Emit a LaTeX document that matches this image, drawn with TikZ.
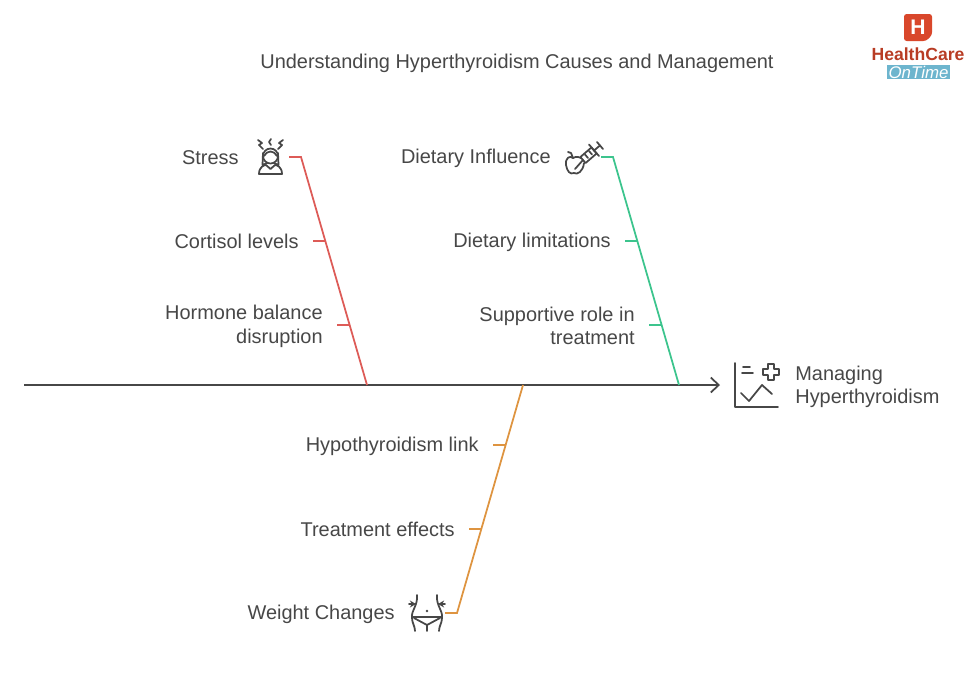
\documentclass[tikz,border=0pt]{standalone}
\usepackage{fontspec}
\setmainfont{Liberation Sans}
\usetikzlibrary{arrows.meta}
\definecolor{inkgray}{HTML}{474747}
\definecolor{bonered}{HTML}{DD5B57}
\definecolor{bonegreen}{HTML}{3CC48D}
\definecolor{boneorange}{HTML}{DE9440}
\definecolor{logored}{HTML}{D9472B}
\definecolor{logoblue}{HTML}{6DB5CE}
\tikzset{
  label/.style={anchor=east,align=right,inner sep=0pt,yshift=-0.5pt,text=inkgray,font=\fontsize{11.35}{13.6}\selectfont},
  bone/.style={line width=1pt},
  icon/.style={draw=inkgray,line width=1pt,line cap=round,line join=round},
}
\begin{document}
\begin{tikzpicture}[x=0.02cm,y=-0.02cm]
  \useasboundingbox (0,0) rectangle (974,680);
  \node[label,anchor=center] (title) at (517,62) {Understanding Hyperthyroidism Causes and Management};

  % spine
  \coordinate (spinestart) at (24,385);
  \coordinate (spineend) at (720,385);
  \draw[line width=1pt,draw=inkgray,-{Straight Barb[length=4.5pt,width=8.5pt]}] (spinestart)--(spineend);
  \node[label,anchor=west,align=left] (goal) at (795,386) {Managing\\Hyperthyroidism};

  % upper left bone
  \node[label] (stress) at (239,157) {Stress};
  \node[label] (cortisol) at (299,240) {Cortisol levels};
  \node[label] (hormone) at (323,325.5) {Hormone balance\\disruption};
  \coordinate (stressa) at (289,157);
  \coordinate (stressb) at (301,157);
  \coordinate (stressc) at (367,385);
  \coordinate (cortisola) at (313,241);
  \coordinate (cortisolb) at (325,241);
  \coordinate (hormonea) at (337,325);
  \coordinate (hormoneb) at (349,325);
  \draw[bone,bonered] (stressa)--(stressb)--(stressc);
  \draw[bone,bonered] (cortisola)--(cortisolb);
  \draw[bone,bonered] (hormonea)--(hormoneb);

  % upper right bone
  \node[label] (diet) at (551,157) {Dietary Influence};
  \node[label] (limits) at (611,241) {Dietary limitations};
  \node[label] (support) at (635,325) {Supportive role in\\treatment};
  \coordinate (dieta) at (601,157);
  \coordinate (dietb) at (613,157);
  \coordinate (dietc) at (679,385);
  \coordinate (limitsa) at (625,241);
  \coordinate (limitsb) at (637,241);
  \coordinate (supporta) at (649,325);
  \coordinate (supportb) at (661,325);
  \draw[bone,bonegreen] (dieta)--(dietb)--(dietc);
  \draw[bone,bonegreen] (limitsa)--(limitsb);
  \draw[bone,bonegreen] (supporta)--(supportb);

  % lower bone
  \node[label] (hypo) at (479,445) {Hypothyroidism link};
  \node[label] (effects) at (455,528) {Treatment effects};
  \node[label] (weight) at (395,613) {Weight Changes};
  \coordinate (weighta) at (445,613);
  \coordinate (weightb) at (457,613);
  \coordinate (weightc) at (523,385);
  \coordinate (hypoa) at (493,445);
  \coordinate (hypob) at (505,445);
  \coordinate (effectsa) at (469,529);
  \coordinate (effectsb) at (481,529);
  \draw[bone,boneorange] (weighta)--(weightb)--(weightc);
  \draw[bone,boneorange] (hypoa)--(hypob);
  \draw[bone,boneorange] (effectsa)--(effectsb);

  % stress icon
  \draw[icon] (270.5,156) circle (7.5);
  \draw[icon] (264,156) .. controls (267,150) and (274,150) .. (277,156);
  \draw[icon] (263,153) -- (262.5,165) -- (267,163);
  \draw[icon] (278,153) -- (278.5,165) -- (274,163);
  \draw[icon] (259,174) .. controls (259,167) and (264,165) .. (266,165) -- (270.5,169) -- (275,165) .. controls (277,165) and (282,167) .. (282,174) -- cycle;
  \draw[icon] (258,140) -- (262,143) -- (259,145) -- (263,149);
  \draw[icon] (283,140) -- (279,143) -- (282,145) -- (278,149);
  \draw[icon] (271,139) -- (269,142) -- (271,145);

  % apple and syringe icon
  \draw[icon] (581,158) .. controls (577,156) and (574,157) .. (573,158) .. controls (570,155) and (565,158) .. (566,165) .. controls (567,171) and (570,175) .. (574,173) .. controls (577,175) and (583,172) .. (584,163);
  \draw[icon] (573,158) -- (571,153) -- (568,152);
  \draw[icon] (580.4,157) -- (591.4,147.5) -- (596.6,153.5) -- (585.6,163) -- cycle;
  \draw[icon] (575,169) -- (583,160);
  \draw[icon] (589,144.5) -- (599,156);
  \draw[icon] (594,150.5) -- (600,145.5);
  \draw[icon] (597,142) -- (603,149);
  \draw[icon] (585,154.5) -- (588,158);
  \draw[icon] (589,151) -- (592,154.5);

  % chart icon
  \draw[icon] (735,363) -- (735,407) -- (778,407);
  \draw[icon] (743,367) -- (750,367);
  \draw[icon] (742,373) -- (753,373);
  \draw[icon] (741,393) -- (749,401) -- (762,385) -- (772,394);
  \draw[icon] (768,364) -- (774,364) -- (774,369) -- (779,369) -- (779,375) -- (774,375) -- (774,380) -- (768,380) -- (768,375) -- (763,375) -- (763,369) -- (768,369) -- cycle;

  % waist icon
  \draw[icon] (417,595) .. controls (418,606) and (411,610) .. (412,618) .. controls (412,623) and (415,626) .. (415,631);
  \draw[icon] (437,595) .. controls (436,606) and (443,610) .. (442,618) .. controls (442,623) and (439,626) .. (439,631);
  \draw[icon,-{Stealth[length=3.5pt,width=4pt]}] (409,604) -- (416,604);
  \draw[icon,-{Stealth[length=3.5pt,width=4pt]}] (445,604) -- (438,604);
  \draw[icon] (412,617) -- (442,617);
  \draw[icon] (414,618) -- (427,625) -- (440,618);
  \draw[icon] (427,625) -- (427,631);
  \fill[inkgray] (427,611) circle (1.3);

  % logo
  \fill[logored,rounded corners=1.5pt] (904,14) -- (932,14) -- (932,35) -- (926,41) -- (904,41) -- cycle;
  \node[inner sep=0pt,text=white,font=\bfseries\fontsize{12}{12}\selectfont] (logoh) at (918,27.5) {H};
  \node[inner sep=0pt,text=logored!85!black,font=\bfseries\fontsize{10}{10}\selectfont] (logoname) at (918,54) {HealthCare};
  \fill[logoblue] (887,65) rectangle (950,79);
  \node[inner sep=0pt,text=white,font=\itshape\fontsize{9.6}{10}\selectfont] (logotime) at (918.5,72) {OnTime};
\end{tikzpicture}
\end{document}
